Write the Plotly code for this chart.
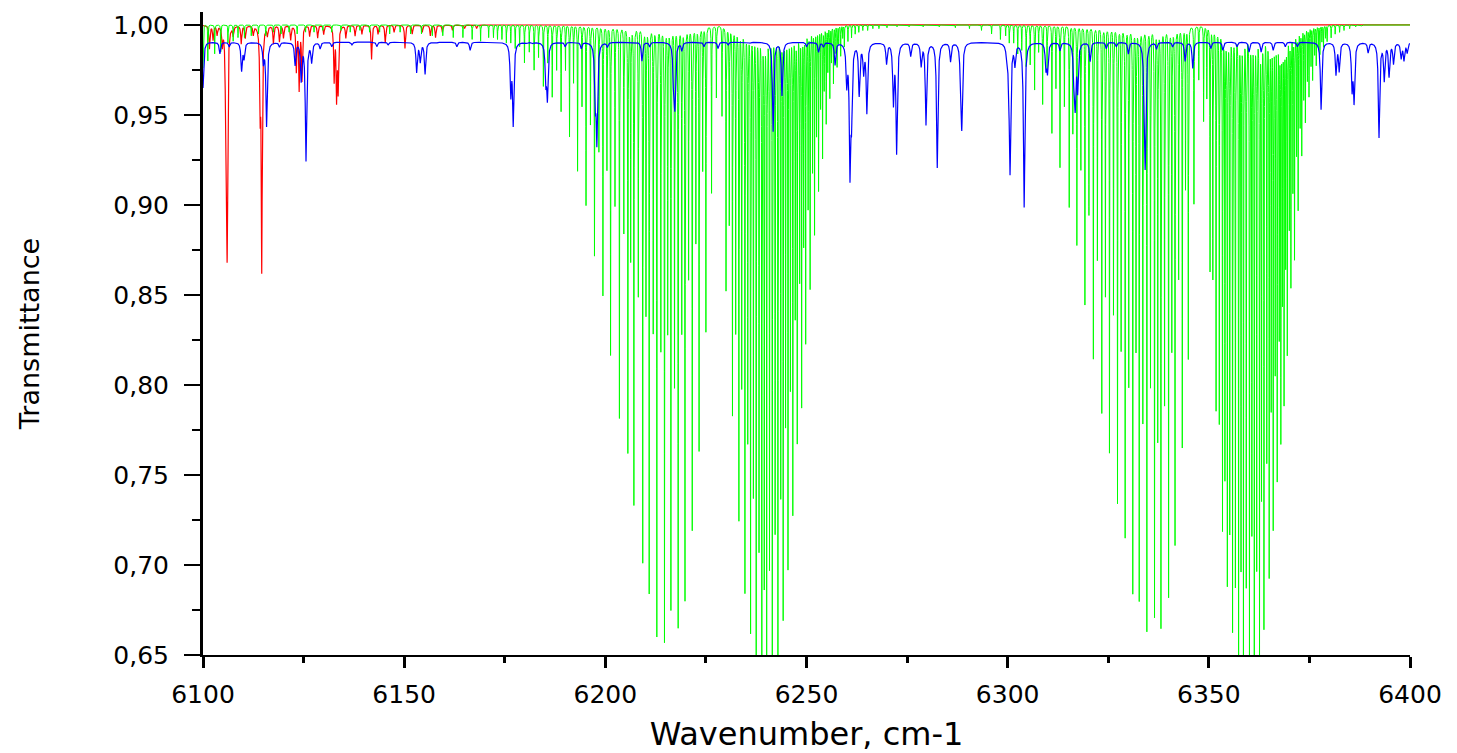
import numpy as np
import plotly.graph_objects as go

# ---------------- data ----------------
# Each absorption line: centre (cm-1) and minimum transmittance reached.

# red series (baseline 1.000)
red_centers = [6101.6, 6102.5, 6103.5, 6104.8, 6105.7, 6106.0, 6107.5, 6109.5, 6110.5, 6112.5,
               6114.2, 6114.6, 6116.0, 6117.5, 6119.0, 6120.0, 6121.8, 6123.2, 6123.9, 6124.6,
               6126.5, 6128.5, 6130.0, 6132.6, 6133.2, 6133.6, 6135.5, 6137.8, 6139.5, 6141.9,
               6143.5, 6145.3, 6147.5, 6150.2, 6152.0, 6154.5, 6156.5, 6157.8, 6159.5, 6162.0,
               6165.0, 6168.0]
red_minima = [0.987, 0.992, 0.995, 0.990, 0.931, 0.879, 0.995, 0.990, 0.993, 0.995,
              0.957, 0.866, 0.995, 0.990, 0.991, 0.993, 0.992, 0.975, 0.965, 0.970,
              0.994, 0.993, 0.995, 0.970, 0.961, 0.965, 0.993, 0.994, 0.995, 0.981,
              0.995, 0.990, 0.996, 0.987, 0.995, 0.996, 0.994, 0.993, 0.996, 0.997,
              0.998, 0.998]

# green series: band 1 (P + R branches), strong lines
g1_centers = [6171.0, 6173.2, 6175.4, 6177.6, 6179.9, 6182.3, 6184.6, 6186.8, 6189.0, 6191.1,
              6193.1, 6195.2, 6197.3, 6199.4, 6201.3, 6203.5, 6205.6, 6207.1, 6209.3, 6210.9,
              6212.8, 6214.7, 6216.3, 6218.1, 6219.8, 6221.6, 6223.3, 6225.0, 6226.4,
              6230.0, 6231.6, 6233.2, 6234.7, 6236.1, 6237.5, 6238.9, 6240.1, 6241.5, 6242.9,
              6244.2, 6245.4, 6246.6, 6247.7, 6248.8, 6249.8, 6250.9, 6252.0, 6253.0, 6254.0,
              6254.9, 6255.8, 6256.7, 6257.6, 6258.5, 6259.4, 6260.3, 6261.2, 6262.1]
g1_minima = [0.993, 0.992, 0.990, 0.987, 0.979, 0.975, 0.966, 0.960, 0.952, 0.938,
             0.919, 0.900, 0.872, 0.850, 0.817, 0.782, 0.763, 0.734, 0.702, 0.685,
             0.661, 0.658, 0.676, 0.666, 0.681, 0.720, 0.764, 0.830, 0.907,
             0.853, 0.784, 0.726, 0.686, 0.664, 0.645, 0.638, 0.638, 0.642, 0.652,
             0.672, 0.700, 0.730, 0.770, 0.790, 0.825, 0.855, 0.885, 0.909, 0.927,
             0.946, 0.960, 0.968, 0.977, 0.983, 0.988, 0.991, 0.993, 0.995]

# green series: band 1 weaker interleaved lines
g1w_centers = [6190.1, 6192.1, 6194.2, 6196.3, 6198.4, 6200.4, 6202.4, 6204.6, 6206.3, 6208.2,
               6210.1, 6211.9, 6213.8, 6215.5, 6217.2, 6219.0, 6220.7, 6222.5, 6224.2, 6227.6,
               6229.0, 6230.8, 6232.4, 6233.9, 6235.4, 6236.8, 6238.2, 6239.5, 6240.8, 6242.2,
               6243.6, 6244.8, 6246.0, 6247.2, 6248.3, 6249.3, 6250.4, 6251.5, 6252.5, 6253.5,
               6254.4, 6255.3, 6256.2, 6257.1, 6258.0, 6259.0]
g1w_minima = [0.975, 0.968, 0.955, 0.945, 0.930, 0.920, 0.900, 0.885, 0.870, 0.850,
              0.840, 0.830, 0.820, 0.830, 0.800, 0.830, 0.860, 0.880, 0.920, 0.960,
              0.950, 0.890, 0.830, 0.800, 0.770, 0.740, 0.710, 0.690, 0.700, 0.720,
              0.740, 0.780, 0.800, 0.840, 0.860, 0.880, 0.900, 0.920, 0.940, 0.955,
              0.965, 0.975, 0.980, 0.985, 0.990, 0.993]

# green series: band 2 (P + R branches), strong lines
g2_centers = [6300.4, 6302.5, 6304.6, 6306.7, 6308.7, 6311.0, 6313.0, 6315.3, 6317.2, 6319.2,
              6321.3, 6323.4, 6325.3, 6327.3, 6329.2, 6331.1, 6332.7, 6334.6, 6336.5, 6338.1,
              6340.0, 6341.6, 6343.4, 6344.9, 6346.3,
              6348.7, 6350.3, 6351.8, 6353.4, 6354.6, 6355.9, 6357.4, 6358.6, 6360.1, 6361.3,
              6362.6, 6363.7, 6365.0, 6366.0, 6367.0, 6367.9, 6368.7, 6369.5, 6370.4, 6371.3,
              6372.2, 6373.1, 6374.0, 6374.9, 6375.8, 6376.7, 6377.6, 6378.5, 6379.4, 6380.4,
              6381.4, 6382.5, 6383.6, 6385.0]
g2_minima = [0.990, 0.984, 0.977, 0.964, 0.956, 0.940, 0.921, 0.899, 0.878, 0.845,
             0.815, 0.785, 0.763, 0.735, 0.716, 0.685, 0.681, 0.664, 0.672, 0.666,
             0.683, 0.712, 0.766, 0.815, 0.901,
             0.947, 0.864, 0.787, 0.721, 0.691, 0.665, 0.645, 0.640, 0.640, 0.645,
             0.652, 0.667, 0.696, 0.723, 0.750, 0.772, 0.793, 0.820, 0.857, 0.872,
             0.899, 0.929, 0.947, 0.961, 0.970, 0.978, 0.984, 0.988, 0.991, 0.993,
             0.995, 0.996, 0.997, 0.998]

# green series: band 2 weaker interleaved lines
g2w_centers = [6307.7, 6309.8, 6312.0, 6314.1, 6316.2, 6318.2, 6320.2, 6322.3, 6324.3, 6326.3,
               6328.2, 6330.1, 6331.9, 6333.6, 6335.5, 6337.3, 6339.0, 6340.8, 6342.5, 6344.2,
               6347.5, 6349.5, 6351.0, 6352.6, 6354.0, 6355.2, 6356.6, 6358.0, 6359.3, 6360.7,
               6361.9, 6363.1, 6364.4, 6365.5, 6366.5, 6367.5, 6368.3, 6369.1, 6370.0, 6370.9,
               6371.8, 6372.7, 6373.6, 6374.5, 6375.4, 6376.3, 6377.2, 6378.1, 6379.0]
g2w_minima = [0.985, 0.975, 0.965, 0.955, 0.940, 0.920, 0.895, 0.870, 0.850, 0.840,
              0.820, 0.800, 0.820, 0.780, 0.800, 0.770, 0.790, 0.820, 0.860, 0.910,
              0.970, 0.960, 0.860, 0.780, 0.750, 0.720, 0.690, 0.700, 0.690, 0.720,
              0.700, 0.740, 0.760, 0.790, 0.810, 0.830, 0.850, 0.870, 0.890, 0.910,
              0.930, 0.945, 0.960, 0.970, 0.978, 0.984, 0.988, 0.991, 0.993]

# green series: weak lines near the top
gs_centers = [6100.0, 6101.2, 6102.9, 6104.4, 6106.2, 6107.5, 6108.7, 6110.3, 6112.0, 6113.8,
              6115.6, 6117.5, 6119.4, 6121.4, 6123.4, 6125.5, 6127.6, 6129.8, 6132.0, 6134.3,
              6136.6, 6139.0, 6141.4, 6143.9, 6146.4, 6149.0, 6151.6, 6154.3, 6157.0, 6159.6,
              6162.2, 6164.6, 6166.9, 6169.0, 6172.2, 6174.3, 6176.5, 6178.7, 6181.1, 6183.4,
              6185.7, 6187.9,
              6263.0, 6264.0, 6265.2, 6266.5, 6268.0, 6270.0, 6272.5, 6275.5, 6279.0, 6283.0,
              6287.0, 6290.5, 6293.5, 6296.0, 6298.2, 6299.5, 6301.5, 6303.5, 6305.6,
              6386.5, 6388.0]
gs_minima = [0.976, 0.980, 0.984, 0.985, 0.990, 0.991, 0.993, 0.993, 0.994, 0.995,
             0.994, 0.996, 0.995, 0.996, 0.995, 0.996, 0.996, 0.997, 0.996, 0.997,
             0.996, 0.997, 0.996, 0.996, 0.995, 0.996, 0.995, 0.995, 0.994, 0.994,
             0.993, 0.993, 0.992, 0.991, 0.993, 0.992, 0.990, 0.988, 0.985, 0.982,
             0.979, 0.975,
             0.996, 0.997, 0.997, 0.998, 0.998, 0.9985, 0.999, 0.999, 0.999, 0.999,
             0.9985, 0.998, 0.997, 0.995, 0.992, 0.994, 0.990, 0.986, 0.978,
             0.999, 0.9995]

# blue series (baseline ~0.9905)
blue_centers = [6100.0, 6104.2, 6106.5, 6109.6, 6110.2, 6115.0, 6115.8, 6119.0, 6122.9, 6124.4,
                6125.6, 6127.0, 6129.1, 6132.0, 6137.0, 6143.2, 6146.0, 6153.1, 6154.0, 6155.2,
                6158.0, 6163.1, 6166.4, 6176.5, 6177.1, 6180.5, 6182.0, 6185.2, 6185.6, 6190.0,
                6194.0, 6197.5, 6197.9, 6200.5, 6209.1, 6211.0, 6217.0, 6217.3, 6219.0, 6224.5,
                6228.0, 6230.5, 6236.0, 6241.7, 6243.9, 6250.0, 6253.0, 6254.2, 6257.1, 6260.0,
                6260.8, 6261.2, 6263.1, 6264.2, 6265.0, 6269.9, 6271.6, 6272.4, 6275.9, 6278.5,
                6279.7, 6282.5, 6285.8, 6288.3, 6288.6, 6299.8, 6300.3, 6300.6, 6301.8, 6304.1,
                6309.5, 6309.9, 6313.0, 6316.5, 6316.8, 6317.4, 6320.5, 6324.5, 6327.0, 6330.0,
                6334.0, 6334.2, 6337.0, 6341.0, 6344.1, 6346.0, 6350.5, 6353.5, 6357.0, 6360.0,
                6363.0, 6366.0, 6369.0, 6372.0, 6377.9, 6381.6, 6382.4, 6385.6, 6386.1, 6389.6,
                6392.3, 6393.6, 6394.8, 6395.9, 6397.8, 6398.5, 6399.3]
blue_minima = [0.965, 0.984, 0.988, 0.975, 0.982, 0.980, 0.944, 0.988, 0.978, 0.970,
               0.925, 0.980, 0.987, 0.988, 0.989, 0.988, 0.989, 0.974, 0.980, 0.973,
               0.990, 0.988, 0.986, 0.963, 0.946, 0.990, 0.990, 0.970, 0.961, 0.988,
               0.987, 0.960, 0.938, 0.988, 0.980, 0.988, 0.965, 0.960, 0.986, 0.988,
               0.987, 0.989, 0.990, 0.941, 0.961, 0.988, 0.985, 0.988, 0.978, 0.969,
               0.921, 0.953, 0.962, 0.975, 0.952, 0.979, 0.958, 0.930, 0.983, 0.978,
               0.945, 0.921, 0.980, 0.975, 0.946, 0.984, 0.975, 0.922, 0.979, 0.899,
               0.977, 0.975, 0.986, 0.970, 0.960, 0.965, 0.980, 0.987, 0.988, 0.984,
               0.960, 0.935, 0.987, 0.988, 0.980, 0.976, 0.987, 0.986, 0.988, 0.985,
               0.985, 0.986, 0.988, 0.988, 0.953, 0.973, 0.975, 0.966, 0.959, 0.985,
               0.938, 0.970, 0.972, 0.979, 0.982, 0.981, 0.985]

baselines = {"red": 1.000, "green": 1.000, "blue": 0.9905}

x_range = [6100, 6400]
y_range = [0.65, 1.0072]
x_tick_vals = [6100, 6150, 6200, 6250, 6300, 6350, 6400]
x_tick_text = ["6100", "6150", "6200", "6250", "6300", "6350", "6400"]
y_tick_vals = [0.65, 0.70, 0.75, 0.80, 0.85, 0.90, 0.95, 1.00]
y_tick_text = ["0,65", "0,70", "0,75", "0,80", "0,85", "0,90", "0,95", "1,00"]


# ---------------- build spectra from the line lists ----------------
def spectrum(x, centers, minima, base, gamma):
    t = np.full_like(x, base, dtype=float)
    for c, m in zip(centers, minima):
        d = 1.0 - m / base
        t *= 1.0 - d * gamma ** 2 / ((x - c) ** 2 + gamma ** 2)
    return t


all_centers = (red_centers + g1_centers + g1w_centers + g2_centers + g2w_centers
               + gs_centers + blue_centers)
grid = np.union1d(np.arange(x_range[0], x_range[1] + 1e-9, 0.01),
                  np.clip(np.array(all_centers), x_range[0], x_range[1]))

t_red = spectrum(grid, red_centers, red_minima, baselines["red"], 0.14)
green_c = g1_centers + g1w_centers + g2_centers + g2w_centers + gs_centers
green_m = g1_minima + g1w_minima + g2_minima + g2w_minima + gs_minima
t_green = spectrum(grid, green_c, green_m, baselines["green"], 0.045)
t_blue = spectrum(grid, blue_centers, blue_minima, baselines["blue"], 0.2)

fig = go.Figure()
fig.add_trace(go.Scatter(x=grid, y=t_red, mode="lines", line=dict(color="#FF0000", width=1.2),
                         hoverinfo="skip"))
fig.add_trace(go.Scatter(x=grid, y=t_green, mode="lines", line=dict(color="#00FF00", width=1),
                         hoverinfo="skip"))
fig.add_trace(go.Scatter(x=grid, y=t_blue, mode="lines", line=dict(color="#0000FF", width=1.2),
                         hoverinfo="skip"))

tick_font = dict(family="DejaVu Sans", size=25, color="black")

fig.update_layout(
    width=1457, height=753,
    margin=dict(l=203, r=47, t=12, b=98),
    paper_bgcolor="white", plot_bgcolor="white",
    showlegend=False,
    xaxis=dict(
        range=x_range, showgrid=False, zeroline=False, automargin=False,
        showline=True, linecolor="black", linewidth=2,
        ticks="outside", ticklen=11, tickwidth=3, tickcolor="black",
        tickmode="array", tickvals=x_tick_vals, ticktext=x_tick_text,
        tickfont=tick_font, ticklabelstandoff=5,
        minor=dict(tickmode="linear", tick0=6100, dtick=25, ticks="outside",
                   ticklen=6, tickwidth=3, tickcolor="black"),
        title=dict(text="Wavenumber, cm-1", font=dict(family="DejaVu Sans", size=32, color="black"),
                   standoff=18),
    ),
    yaxis=dict(
        range=y_range, showgrid=False, zeroline=False, automargin=False,
        showline=True, linecolor="black", linewidth=3,
        ticks="outside", ticklen=16, tickwidth=2, tickcolor="black",
        tickmode="array", tickvals=y_tick_vals, ticktext=y_tick_text,
        tickfont=tick_font, ticklabelstandoff=10,
        minor=dict(tickmode="linear", tick0=0.65, dtick=0.025, ticks="outside",
                   ticklen=8, tickwidth=2, tickcolor="black"),
        title=dict(text="Transmittance", font=dict(family="DejaVu Sans", size=27, color="black"),
                   standoff=66),
    ),
)

fig.write_html("out.html")
